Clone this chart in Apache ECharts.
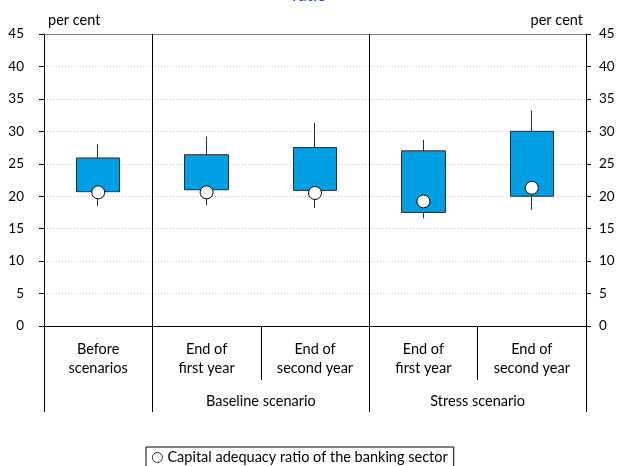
<!DOCTYPE html>
<html>
<head>
<meta charset="utf-8">
<script src="https://cdn.jsdelivr.net/npm/echarts@6/dist/echarts.min.js"></script>
<style>
  html, body { margin: 0; padding: 0; background: #fff; }
  #main { width: 619px; height: 466px; }
</style>
</head>
<body>
<div id="main"></div>
<script>
// --- data ---
const categories = ['Before\nscenarios', 'End of\nfirst year', 'End of\nsecond year', 'End of\nfirst year', 'End of\nsecond year'];
const groupNames = ['Baseline scenario', 'Stress scenario'];
const groupCenters = [1.5, 3.5];        // middle of each scenario pair (category units)
const groupEdges = [-0.5, 0.5, 2.5, 4.5]; // full-height separators
const subEdges = [1.5, 3.5];           // short separators inside a scenario

const boxLow = [20.7, 21.0, 20.9, 17.5, 20.0];
const boxHigh = [25.9, 26.4, 27.5, 27.0, 30.0];
const whiskerLow = [18.5, 18.6, 18.2, 16.6, 17.9];
const whiskerHigh = [28.0, 29.2, 31.3, 28.7, 33.2];
const carValues = [20.6, 20.6, 20.5, 19.2, 21.3];

const FONT = 'Lato';
const FS = 14.5;
const BLUE = '#009FE3';

const chart = echarts.init(document.getElementById('main'));

const boxData = categories.map((c, i) => [boxLow[i], boxHigh[i], whiskerLow[i], whiskerHigh[i]]);

const yAxisCommon = {
    type: 'value',
    min: 0,
    max: 45,
    interval: 5,
    axisLine: { show: true, onZero: false, lineStyle: { color: '#000', width: 1 } },
    axisTick: { show: true, inside: false, length: 5, lineStyle: { color: '#000' } },
    axisLabel: { color: '#000', fontFamily: FONT, fontSize: 13.5 },
    splitLine: { show: true, lineStyle: { color: '#c8c8c8', type: [1, 2] } }
};

const option = {
    backgroundColor: '#fff',
    animation: false,
    title: {
        text: 'ratio',
        left: 'center',
        top: -18,
        textStyle: { color: '#1f4e9c', fontFamily: FONT, fontSize: 17, fontWeight: 'normal' }
    },
    legend: {
        data: ['Capital adequacy ratio of the banking sector'],
        left: 146,
        top: 447,
        icon: 'circle',
        itemWidth: 10,
        itemHeight: 10,
        itemGap: 4,
        padding: [3, 6, 3, 6],
        borderColor: '#000',
        borderWidth: 1,
        borderRadius: 0,
        itemStyle: { borderWidth: 0.8 },
        textStyle: { color: '#000', fontFamily: FONT, fontSize: FS }
    },
    grid: { left: 44, right: 33, top: 34, bottom: 140 },
    xAxis: [
        {
            // category axis for the boxes and item labels
            type: 'category',
            data: categories,
            position: 'bottom',
            axisLine: { show: false },
            axisTick: { show: false },
            splitLine: { show: false },
            axisLabel: {
                color: '#000', fontFamily: FONT, fontSize: FS,
                lineHeight: 19, margin: 14, interval: 0
            }
        },
        {
            // zero line plus long separators
            type: 'value',
            min: -0.5,
            max: 4.5,
            position: 'bottom',
            axisLine: { show: true, onZero: false, lineStyle: { color: '#000', width: 1 } },
            axisTick: { show: true, customValues: groupEdges, length: 86, lineStyle: { color: '#000' } },
            axisLabel: { show: false },
            splitLine: { show: false }
        },
        {
            // short separators and scenario names
            type: 'value',
            min: -0.5,
            max: 4.5,
            position: 'bottom',
            axisLine: { show: false, onZero: false },
            axisTick: { show: true, customValues: subEdges, length: 54, lineStyle: { color: '#000' } },
            axisLabel: {
                customValues: groupCenters,
                formatter: v => groupNames[groupCenters.indexOf(v)] || '',
                color: '#000', fontFamily: FONT, fontSize: FS, margin: 68
            },
            splitLine: { show: false }
        },
        {
            // top border at 45
            type: 'category',
            data: categories,
            position: 'top',
            axisLine: { show: true, onZero: false, lineStyle: { color: '#808080', width: 1 } },
            axisTick: { show: false },
            axisLabel: { show: false },
            splitLine: { show: false }
        }
    ],
    yAxis: [
        Object.assign({}, yAxisCommon, {
            position: 'left',
            name: 'per cent',
            nameLocation: 'end',
            nameGap: 6,
            nameTextStyle: { color: '#000', fontFamily: FONT, fontSize: FS, align: 'left', padding: [0, 0, 0, 4] },
            axisLabel: Object.assign({}, yAxisCommon.axisLabel, { margin: 20 })
        }),
        Object.assign({}, yAxisCommon, {
            position: 'right',
            name: 'per cent',
            nameLocation: 'end',
            nameGap: 6,
            nameTextStyle: { color: '#000', fontFamily: FONT, fontSize: FS, align: 'right', padding: [0, 3, 0, 0] },
            axisLabel: Object.assign({}, yAxisCommon.axisLabel, { margin: 13 }),
            splitLine: { show: false }
        })
    ],
    series: [
        {
            name: 'range',
            type: 'candlestick',
            xAxisIndex: 0,
            yAxisIndex: 0,
            data: boxData,
            barWidth: 44,
            itemStyle: {
                color: BLUE,
                color0: BLUE,
                borderColor: '#2b2b2b',
                borderColor0: '#2b2b2b',
                borderWidth: 1
            },
            z: 3
        },
        {
            name: 'Capital adequacy ratio of the banking sector',
            type: 'scatter',
            xAxisIndex: 0,
            yAxisIndex: 0,
            data: carValues,
            symbol: 'circle',
            symbolSize: 13,
            itemStyle: { color: '#fff', borderColor: '#000', borderWidth: 1, opacity: 1 },
            z: 5
        },
        {
            // full-height separators inside the plot
            name: 'separators',
            type: 'line',
            xAxisIndex: 1,
            yAxisIndex: 0,
            data: [],
            markLine: {
                silent: true,
                symbol: 'none',
                label: { show: false },
                lineStyle: { color: '#000', type: 'solid', width: 1 },
                data: groupEdges.slice(1, -1).map(v => ({ xAxis: v }))
            }
        }
    ]
};

chart.setOption(option);
</script>
</body>
</html>
